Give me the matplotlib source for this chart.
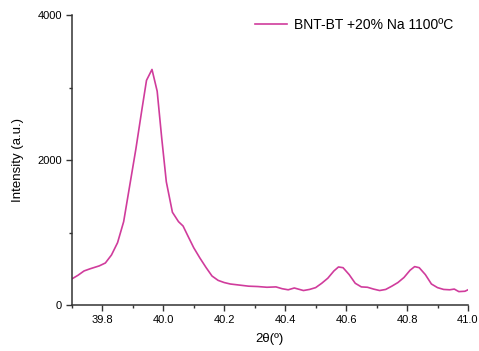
import matplotlib.pyplot as plt
from matplotlib.ticker import MultipleLocator

plt.rcParams['font.family'] = ['Liberation Sans', 'DejaVu Sans']

# XRD scan
two_theta = [39.70, 39.72, 39.74, 39.76, 39.79, 39.81, 39.83, 39.85, 39.87, 39.89,
             39.91, 39.93, 39.945, 39.963, 39.98, 39.995, 40.01, 40.03, 40.05, 40.065,
             40.08, 40.10, 40.12, 40.14, 40.16, 40.18, 40.20, 40.22, 40.25, 40.28,
             40.31, 40.34, 40.37, 40.39, 40.41, 40.43, 40.46, 40.48, 40.50, 40.52,
             40.54, 40.56, 40.575, 40.59, 40.61, 40.63, 40.65, 40.67, 40.69, 40.71,
             40.73, 40.75, 40.77, 40.79, 40.81, 40.825, 40.84, 40.86, 40.88, 40.90,
             40.92, 40.94, 40.955, 40.97, 40.99, 41.00]
intensity = [360, 410, 470, 500, 540, 580, 690, 860, 1150, 1650,
             2150, 2700, 3100, 3250, 2950, 2300, 1700, 1280, 1150, 1090,
             960, 790, 650, 520, 400, 340, 310, 290, 275, 260,
             255, 245, 250, 225, 210, 235, 200, 215, 240, 300,
             370, 470, 525, 515, 420, 300, 250, 245, 220, 200,
             215, 260, 310, 380, 480, 530, 515, 420, 290, 240,
             215, 210, 220, 185, 190, 210]
label = 'BNT-BT +20% Na 1100ºC'

fig = plt.figure(figsize=(4.79, 3.51), dpi=100)
ax = fig.add_axes([0.150, 0.131, 0.827, 0.826])
ax.plot(two_theta, intensity, color='#d03c9c', lw=1.2, label=label)

ax.set_xlim(39.7, 41.0)
ax.set_ylim(0, 4000)
ax.xaxis.set_major_locator(MultipleLocator(0.2))
ax.xaxis.set_minor_locator(MultipleLocator(0.1))
ax.yaxis.set_major_locator(MultipleLocator(2000))
ax.yaxis.set_minor_locator(MultipleLocator(1000))
ax.xaxis.set_major_formatter(plt.FormatStrFormatter('%.1f'))

for s in ['top', 'right']:
    ax.spines[s].set_visible(False)
for s in ['left', 'bottom']:
    ax.spines[s].set_linewidth(1.1)
    ax.spines[s].set_color('#333333')
ax.tick_params(which='major', length=4, width=1, color='#333333', labelsize=8, pad=3)
ax.tick_params(which='minor', length=2.5, width=1, color='#333333')

ax.set_xlabel('2θ(º)', fontsize=9.5, labelpad=6)
ax.set_ylabel('Intensity (a.u.)', fontsize=9.5, labelpad=10)

ax.legend(loc='upper right', frameon=False, fontsize=10, handlelength=2.3,
          handletextpad=0.5, borderpad=0, borderaxespad=0,
          bbox_to_anchor=(0.962, 0.99))

fig.savefig('out.png', dpi=100)
